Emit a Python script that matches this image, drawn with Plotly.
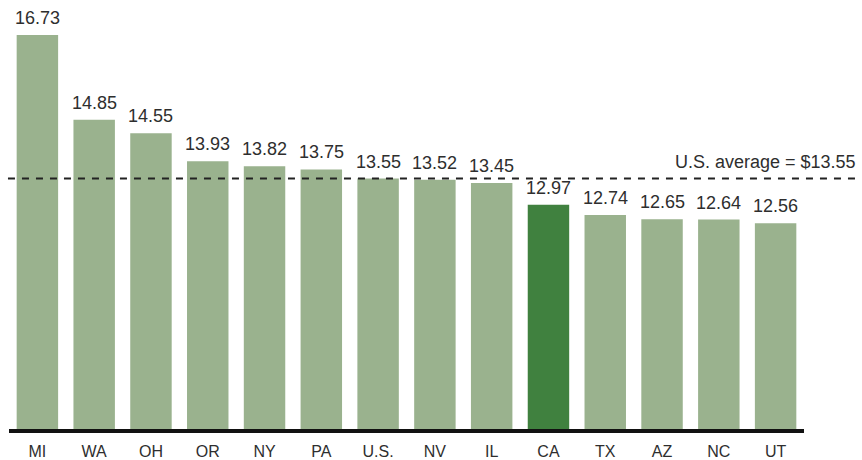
import plotly.graph_objects as go

states = ["MI", "WA", "OH", "OR", "NY", "PA", "U.S.", "NV", "IL", "CA", "TX", "AZ", "NC", "UT"]
wages = [16.73, 14.85, 14.55, 13.93, 13.82, 13.75, 13.55, 13.52, 13.45, 12.97, 12.74, 12.65, 12.64, 12.56]
highlight = "CA"
us_average = 13.55
avg_label = "U.S. average = $13.55"

base_color = "#9AB28E"
hi_color = "#40813F"
text_color = "#2E2E2E"
font_family = "Liberation Sans, Arial, sans-serif"

colors = [hi_color if s == highlight else base_color for s in states]

fig = go.Figure()
fig.add_trace(go.Bar(
    x=states, y=wages, marker=dict(color=colors, line=dict(width=0)),
    hoverinfo="skip",
))

for s, v in zip(states, wages):
    fig.add_annotation(
        x=s, y=v, xref="x", yref="y", text=f"{v:.2f}", showarrow=False,
        yanchor="bottom", yshift=5,
        font=dict(size=18, color=text_color, family=font_family),
    )

fig.add_shape(
    type="line", xref="paper", yref="y", x0=-0.0013, x1=1.065, y0=us_average, y1=us_average,
    line=dict(color="#222222", width=1.8, dash="7px,7px"),
)
fig.add_annotation(
    xref="paper", yref="y", x=1.0685, y=us_average, text=avg_label, showarrow=False,
    xanchor="right", yanchor="bottom", yshift=5,
    font=dict(size=18, color=text_color, family=font_family),
)

fig.update_layout(
    width=862, height=460,
    margin=dict(l=9, r=58, t=0, b=31),
    plot_bgcolor="white", paper_bgcolor="white",
    bargap=0.27, showlegend=False,
    font=dict(family=font_family, color=text_color),
)
fig.update_yaxes(range=[8, 17.505], visible=False, showgrid=False)
fig.update_xaxes(
    range=[-0.5, 13.5], showline=True, linewidth=4, linecolor="#111111",
    ticks="", showgrid=False, ticklabelstandoff=5,
    tickfont=dict(size=16, color=text_color, family=font_family),
)

fig.write_html("out.html", config={"displayModeBar": False},
               post_script="document.body.style.margin='0';")
